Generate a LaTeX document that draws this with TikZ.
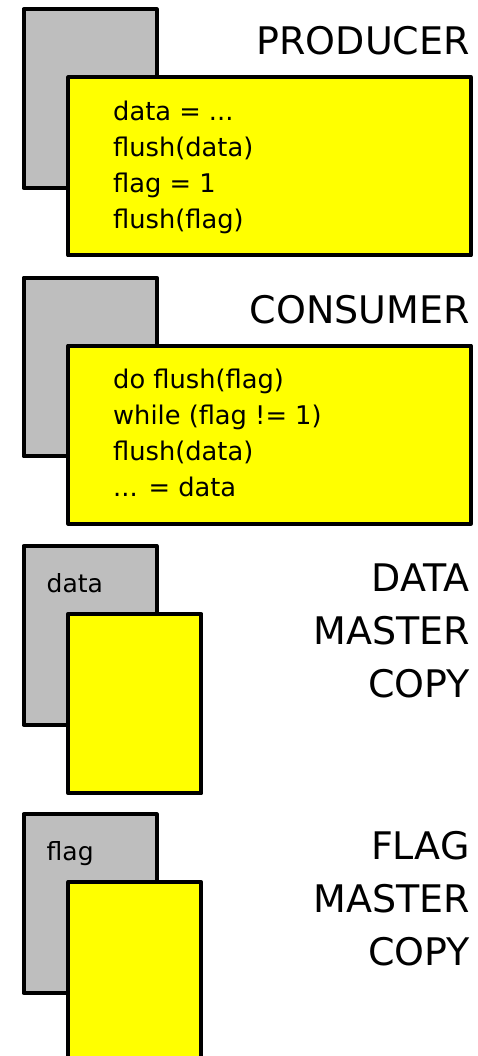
\documentclass[tikz,border=0pt]{standalone}
\usepackage{fontspec}
\setmainfont{DejaVu Sans}
\definecolor{cachegray}{RGB}{190,190,190}
\definecolor{cacheyellow}{RGB}{255,255,0}
\begin{document}
\begin{tikzpicture}[x=1pt,y=-1pt,
  panebox/.style={draw=black, line width=4pt, line join=round, inner sep=0pt,
    outer sep=0pt, anchor=north west},
  backbox/.style={panebox, fill=cachegray, minimum width=133.2pt, minimum height=178.5pt},
  widebox/.style={panebox, fill=cacheyellow, minimum width=402.5pt, minimum height=178.3pt},
  narrowbox/.style={panebox, fill=cacheyellow, minimum width=133pt, minimum height=179.5pt},
  title/.style={anchor=base east, inner sep=0pt, align=right,
    font=\fontsize{38}{53}\selectfont},
  code/.style={anchor=base west, inner sep=0pt, align=left,
    font=\fontsize{25.7}{36}\selectfont},
  tag/.style={anchor=base west, inner sep=0pt, font=\fontsize{25}{30}\selectfont}]
\useasboundingbox (0,0) rectangle (478,1056);

% producer
\node[backbox] (pback) at (23.5,9.5) {};
\node[widebox] (pfront) at (68.3,77.2) {};
\node[title] (ptitle) at (470,55) {PRODUCER};
\node[code] (pcode) at (113,228.3) {data = ...\\flush(data)\\flag = 1\\flush(flag)};

% consumer
\begin{scope}[shift={(0,268.3)}]
\node[backbox] (cback) at (23.5,9.5) {};
\node[widebox] (cfront) at (68.3,77.2) {};
\node[title] (ctitle) at (470,55) {CONSUMER};
\node[code] (ccode) at (113,228.3) {do flush(flag)\\while (flag != 1)\\flush(data)\\... = data};
\end{scope}

% data master copy
\begin{scope}[shift={(0,536.6)}]
\node[backbox] (dback) at (23.5,9.5) {};
\node[tag] (dtag) at (46.5,55.5) {data};
\node[narrowbox] (dfront) at (68.3,77.2) {};
\node[title] (dtitle) at (470,160.5) {DATA\\MASTER\\COPY};
\end{scope}

% flag master copy
\begin{scope}[shift={(0,804.9)}]
\node[backbox] (fback) at (23.5,9.5) {};
\node[tag] (ftag) at (46.5,55.5) {flag};
\node[narrowbox] (ffront) at (68.3,77.2) {};
\node[title] (ftitle) at (470,160.5) {FLAG\\MASTER\\COPY};
\end{scope}
\end{tikzpicture}
\end{document}
